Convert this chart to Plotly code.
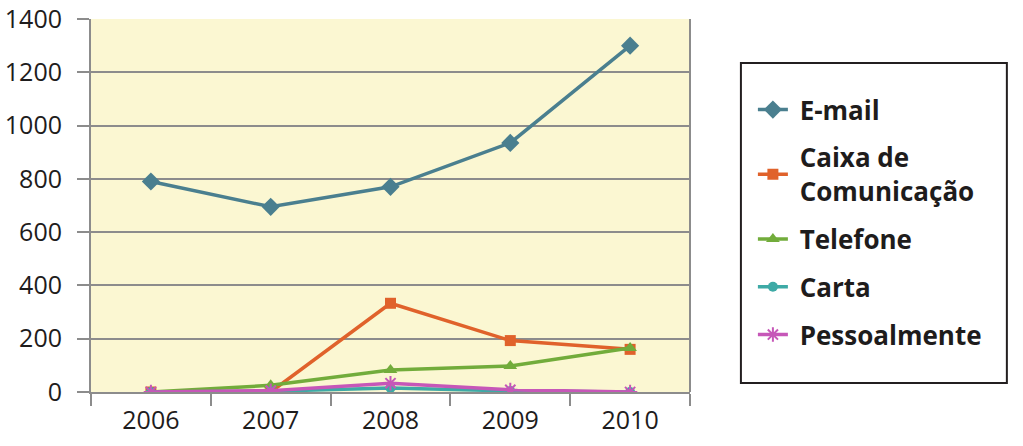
import plotly.graph_objects as go

years = ["2006", "2007", "2008", "2009", "2010"]
email = [790, 695, 770, 935, 1300]
caixa = [0, 0, 333, 193, 160]
telefone = [0, 25, 83, 98, 165]
carta = [0, 3, 15, 4, 0]
pessoal = [0, 5, 33, 8, 0]

series = [
    ("E-mail", email, "#4a7f8f", "diamond", 14),
    ("Caixa de<br>Comunicação", caixa, "#e0622b", "square", 11),
    ("Telefone", telefone, "#72ac3b", "triangle-up", 12),
    ("Carta", carta, "#3eaaa6", "circle", 10),
    ("Pessoalmente", pessoal, "#c657b8", "asterisk-open", 12),
]

fig = go.Figure()
for i, (name, vals, col, sym, sz) in enumerate(series):
    fig.add_trace(go.Scatter(
        x=years, y=vals, name=" " + name.replace("<br>", "<br> "), mode="lines+markers",
        line=dict(color=col, width=3.5),
        marker=dict(symbol=sym, size=sz, color=col, line=dict(color=col, width=2 if sym == "asterisk-open" else 0)),
        legendgroup=str(i),
    ))

fig.update_layout(
    width=1023, height=446,
    margin=dict(l=91, r=333, t=19, b=54, autoexpand=False),
    paper_bgcolor="white",
    plot_bgcolor="#fbf7d2",
    font=dict(family="Open Sans, Noto Sans, sans-serif", color="#1e1c1c"),
    showlegend=True,
    legend=dict(
        x=1.105, y=0.82, xanchor="left", yanchor="top",
        font=dict(size=26, color="#1e1c1c", family="Open Sans, sans-serif", weight="bold"),
        tracegroupgap=11, bgcolor="rgba(0,0,0,0)", borderwidth=0,
        itemwidth=30,
    ),
    shapes=[dict(type="rect", xref="paper", yref="paper",
                 x0=1.085, x1=1.529, y0=0.024, y1=0.882,
                 line=dict(color="#231f20", width=2))],
)
fig.update_xaxes(
    type="category", range=[-0.5, 4.5], automargin=False,
    showline=True, linecolor="#8c8c8c", linewidth=2,
    ticks="outside", ticklen=12, tickcolor="#8c8c8c", tickwidth=2,
    tickson="boundaries", showgrid=False, ticklabelstandoff=5,
    tickfont=dict(size=25, color="#1e1c1c"),
    mirror=False,
)
fig.update_yaxes(
    range=[0, 1400], dtick=200, automargin=False,
    showline=True, linecolor="#8c8c8c", linewidth=2,
    ticks="outside", ticklen=12, tickcolor="#8c8c8c", tickwidth=2,
    showgrid=True, gridcolor="#8c8c8c", gridwidth=2,
    zeroline=False, ticklabelstandoff=10,
    tickfont=dict(size=25, color="#1e1c1c"),
)
# right border of plot area
fig.add_shape(type="line", xref="paper", yref="paper", x0=1, x1=1, y0=0, y1=1,
              line=dict(color="#8c8c8c", width=2))

fig.write_html("out.html")
